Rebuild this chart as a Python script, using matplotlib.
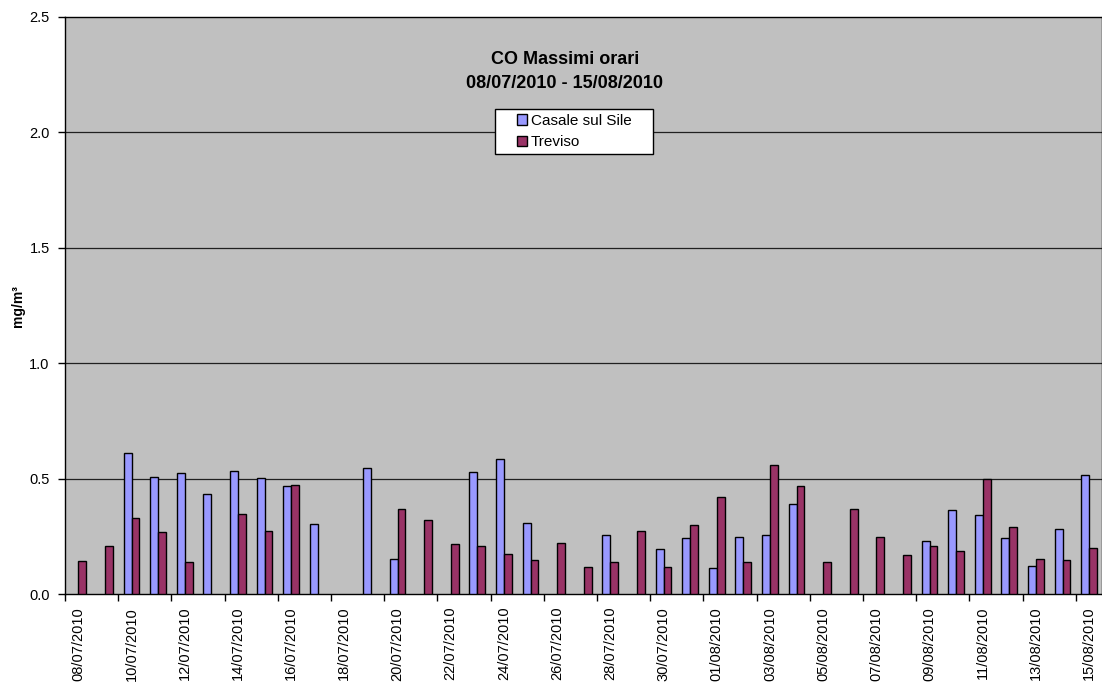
import numpy as np
import pandas as pd
import matplotlib
matplotlib.use("Agg")
import matplotlib.pyplot as plt
from matplotlib.patches import Rectangle, Patch

plt.rcParams['font.family'] = ['Liberation Sans', 'DejaVu Sans']

# Daily dates (categories)
dates = pd.date_range("2010-07-08", "2010-08-15", freq="D").strftime("%d/%m/%Y").tolist()

# Maximum hourly CO (mg/m3); None = no data
casale = [None, None, 0.613, 0.510, 0.527, 0.435, 0.533, 0.504, 0.471, 0.303,
          None, 0.549, 0.152, None, None, 0.530, 0.585, 0.310, None, None,
          0.258, None, 0.196, 0.245, 0.113, 0.246, 0.256, 0.393, None, None,
          None, None, 0.229, 0.367, 0.345, 0.245, 0.124, 0.281, 0.517]
treviso = [0.145, 0.207, 0.330, 0.271, 0.142, None, 0.349, 0.274, 0.474, None,
           None, None, 0.371, 0.323, 0.216, 0.207, 0.175, 0.148, 0.220, 0.117,
           0.142, 0.275, 0.119, 0.298, 0.420, 0.142, 0.558, 0.467, 0.140, 0.370,
           0.248, 0.171, 0.209, 0.188, 0.498, 0.293, 0.153, 0.148, 0.201]

series_names = ["Casale sul Sile", "Treviso"]
colors = ["#9999FF", "#993366"]

W, H = 1102, 686
fig = plt.figure(figsize=(W / 100, H / 100), dpi=100, facecolor="white")
left, right, top, bottom = 65, 1102.4, 17, 594.3
ax = fig.add_axes([left / W, 1 - bottom / H, (right - left) / W, (bottom - top) / H])
ax.set_facecolor("#C0C0C0")

x = np.arange(len(dates))
bw = 0.3
for vals, off, col in ((casale, -bw / 2, colors[0]), (treviso, bw / 2, colors[1])):
    arr = np.array([np.nan if v is None else v for v in vals], dtype=float)
    ok = ~np.isnan(arr)
    ax.bar(x[ok] + off, arr[ok], width=bw, color=col, edgecolor="black",
           linewidth=1.0, zorder=3)

ax.set_xlim(-0.5, len(dates) - 0.5)
ax.set_ylim(0, 2.5)
yt = np.arange(0, 2.51, 0.5)
ax.set_yticks(yt)
ax.set_yticklabels([f"{v:.1f}" for v in yt], fontsize=10.5)
for v in yt[1:-1]:
    ax.axhline(v, color="#202020", linewidth=0.9, zorder=1)

# tick marks between categories every two days, labels on every second day
ax.set_xticks(np.arange(-0.5, len(dates), 2))
ax.set_xticklabels([])
ax.set_xticks(x[::2], minor=True)
ax.set_xticklabels(dates[::2], minor=True, rotation=90, fontsize=10.5)
ax.tick_params(axis="x", which="minor", length=0, pad=9)
ax.tick_params(axis="x", which="major", length=5, width=1, direction="out")
ax.tick_params(axis="y", length=5, width=1, direction="out", pad=6)

for s in ax.spines.values():
    s.set_color("black")
    s.set_linewidth(1.0)

fig.text(18 / W, 1 - 306 / H, "mg/m³", rotation=90, fontsize=10,
         fontweight="bold", ha="center", va="center")

fig.text(565 / W, 1 - 60 / H, "CO Massimi orari", fontsize=13,
         fontweight="bold", ha="center", va="center")
fig.text(565 / W, 1 - 83 / H, "08/07/2010 - 15/08/2010", fontsize=13,
         fontweight="bold", ha="center", va="center")

# legend box
lx0, ly0, lx1, ly1 = 495, 109, 653, 154
fig.patches.append(Rectangle((lx0 / W, 1 - ly1 / H), (lx1 - lx0) / W, (ly1 - ly0) / H,
                             transform=fig.transFigure, facecolor="white",
                             edgecolor="black", linewidth=1.0, zorder=5))
handles = [Patch(facecolor=c, edgecolor="black", linewidth=1.0) for c in colors]
fig.legend(handles, series_names, loc="center",
           bbox_to_anchor=((lx0 + lx1) / 2 / W, 1 - (ly0 + ly1) / 2 / H),
           frameon=False, fontsize=11, handlelength=0.7, handleheight=0.7,
           handletextpad=0.2, labelspacing=0.5, borderpad=0.0, borderaxespad=0)

fig.savefig("out.png", dpi=100, facecolor="white")
